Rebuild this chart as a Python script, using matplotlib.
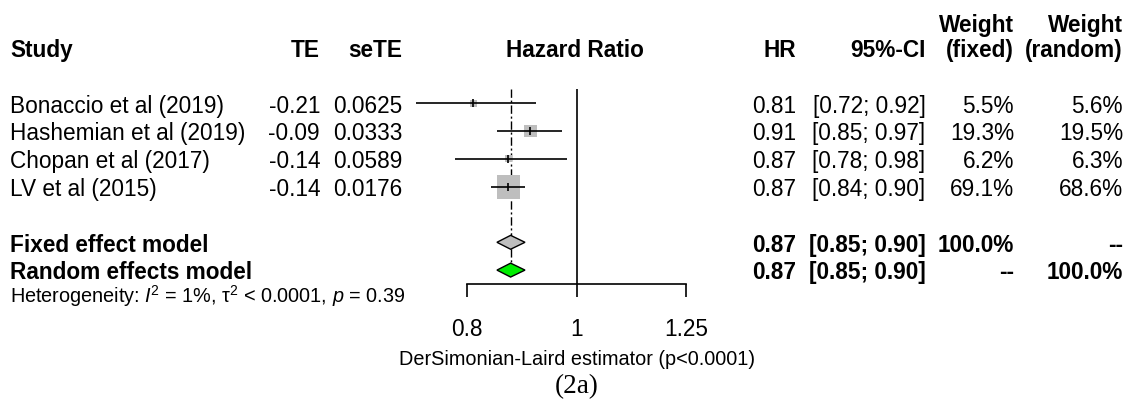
import numpy as np
import matplotlib.pyplot as plt

plt.rcParams['font.family'] = ['Liberation Sans', 'DejaVu Sans']
plt.rcParams['mathtext.fontset'] = 'custom'
plt.rcParams['mathtext.rm'] = 'Liberation Sans'
plt.rcParams['mathtext.it'] = 'Liberation Sans:italic'

# study data
studies = ['Bonaccio et al (2019)', 'Hashemian et al (2019)', 'Chopan et al (2017)', 'LV et al (2015)']
te = [-0.21, -0.09, -0.14, -0.14]
se_te = [0.0625, 0.0333, 0.0589, 0.0176]
hr = [0.81, 0.91, 0.87, 0.87]
ci_lo = [0.72, 0.85, 0.78, 0.84]
ci_hi = [0.92, 0.97, 0.98, 0.90]
w_fixed = [5.5, 19.3, 6.2, 69.1]
w_random = [5.6, 19.5, 6.3, 68.6]

# pooled estimates
pooled_names = ['Fixed effect model', 'Random effects model']
pooled_hr = [0.874, 0.874]
pooled_lo = [0.85, 0.85]
pooled_hi = [0.90, 0.90]
pooled_wf = ['100.0%', '--']
pooled_wr = ['--', '100.0%']
pooled_fill = ['#BEBEBE', '#00EE00']

ticks = [0.8, 1, 1.25]
tick_labels = ['0.8', '1', '1.25']

FS = 16.3
FS_SMALL = 14.3
W, H = 1132, 400
row0_px, row_px = 47.7, 27.8
ylim = ((H - row0_px) / row_px, -row0_px / row_px)
dy = 0.1  # text sits slightly below the row line

fig = plt.figure(figsize=(W / 100, H / 100), dpi=100)

# table axes in pixel x / row y
tab = fig.add_axes([0, 0, 1, 1])
tab.set_xlim(0, W)
tab.set_ylim(*ylim)
tab.axis('off')

# forest axes, log scale
fx0, fx1 = 380, 740
ax = fig.add_axes([fx0 / W, 0, (fx1 - fx0) / W, 1])
ax.patch.set_alpha(0)
ax.set_xscale('log')
px_per_ln = 490.7
ax.set_xlim(np.exp((fx0 - 576.7) / px_per_ln), np.exp((fx1 - 576.7) / px_per_ln))
ax.set_ylim(*ylim)

study_rows = [2, 3, 4, 5]
pooled_rows = [7, 8]

# headers
hdr = dict(fontsize=FS, fontweight='bold', va='center')
tab.text(10, dy, 'Study', ha='left', **hdr)
tab.text(320, dy, 'TE', ha='right', **hdr)
tab.text(402, dy, 'seTE', ha='right', **hdr)
tab.text(575, dy, 'Hazard Ratio', ha='center', **hdr)
tab.text(796, dy, 'HR', ha='right', **hdr)
tab.text(925.5, dy, '95%-CI', ha='right', **hdr)
tab.text(1014, -0.9 + dy, 'Weight', ha='right', **hdr)
tab.text(1014, dy, '(fixed)', ha='right', **hdr)
tab.text(1123, -0.9 + dy, 'Weight', ha='right', **hdr)
tab.text(1123, dy, '(random)', ha='right', **hdr)

for r, name, t, s, h, lo, hi, wf, wr in zip(study_rows, studies, te, se_te, hr, ci_lo, ci_hi, w_fixed, w_random):
    kw = dict(fontsize=FS, va='center')
    y = r + dy
    tab.text(10, y, name, ha='left', **kw)
    tab.text(320, y, f'{t:.2f}', ha='right', **kw)
    tab.text(402, y, f'{s:.4f}', ha='right', **kw)
    tab.text(796, y, f'{h:.2f}', ha='right', **kw)
    tab.text(925.5, y, f'[{lo:.2f}; {hi:.2f}]', ha='right', **kw)
    tab.text(1014, y, f'{wf:.1f}%', ha='right', **kw)
    tab.text(1123, y, f'{wr:.1f}%', ha='right', **kw)

for r, name, h, lo, hi, wf, wr in zip(pooled_rows, pooled_names, pooled_hr, pooled_lo, pooled_hi, pooled_wf, pooled_wr):
    kw = dict(fontsize=FS, fontweight='bold', va='center')
    y = r + dy
    tab.text(10, y, name, ha='left', **kw)
    tab.text(796, y, f'{h:.2f}', ha='right', **kw)
    tab.text(925.5, y, f'[{lo:.2f}; {hi:.2f}]', ha='right', **kw)
    tab.text(1014, y, wf, ha='right', **kw)
    tab.text(1123, y, wr, ha='right', **kw)

tab.text(10, 8.95, 'Heterogeneity: $I$$^2$ = 1%, τ$^2$ < 0.0001, $p$ = 0.39',
         fontsize=FS_SMALL, ha='left', va='center')

# forest marks
ax.vlines(1, 1.49, 8.5, color='black', lw=1.2)
ax.vlines(pooled_hr[0], 1.5, pooled_rows[1] - 0.25, color='black', lw=1.0,
          linestyles=(0, (6, 2, 1.5, 2)))
sq_px = 2.86 * np.sqrt(w_random)
ax.scatter(hr, study_rows, s=(sq_px * 0.72) ** 2, marker='s', color='#BEBEBE', lw=0, zorder=2)
ax.hlines(study_rows, ci_lo, ci_hi, color='black', lw=1.2, zorder=3)
ax.scatter(hr, study_rows, s=30, marker='|', color='black', lw=1.2, zorder=4)

for r, h, lo, hi, c in zip(pooled_rows, pooled_hr, pooled_lo, pooled_hi, pooled_fill):
    ax.fill([lo, h, hi, h], [r, r - 0.25, r, r + 0.25], facecolor=c, edgecolor='black', lw=1.0, zorder=3)

# bottom axis
for side in ['left', 'right', 'top']:
    ax.spines[side].set_visible(False)
ax.spines['bottom'].set_position(('data', 8.5))
ax.spines['bottom'].set_bounds(0.8, 1.25)
ax.spines['bottom'].set_linewidth(1.2)
ax.set_xticks(ticks)
ax.set_xticklabels(tick_labels)
ax.minorticks_off()
ax.set_yticks([])
ax.tick_params(axis='x', direction='out', length=9.7, width=1.2, labelsize=FS, pad=14.5)

ax.text(1, 11.2, 'DerSimonian-Laird estimator (p<0.0001)', fontsize=FS_SMALL, ha='center', va='center')
ax.text(1, 12.2, '(2a)', fontsize=19.5, ha='center', va='center', family='Liberation Serif')

fig.savefig('out.png', dpi=100)
